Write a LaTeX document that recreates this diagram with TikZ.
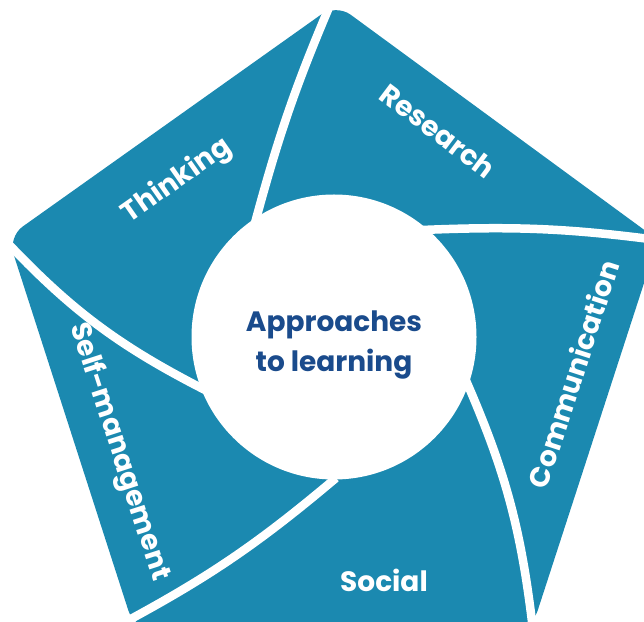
\documentclass[tikz,border=0pt]{standalone}
\usepackage{fontspec}
\setmainfont{Poppins}
\definecolor{tealfill}{HTML}{1B89B0}
\definecolor{navytext}{HTML}{1A4B8C}
\begin{document}
\begin{tikzpicture}[x=1pt,y=1pt,
  sep/.style={white, line width=8.5pt},
  lbl/.style={text=white, font=\bfseries\fontsize{28}{30}\selectfont, inner sep=0pt},
  ctr/.style={text=navytext, font=\bfseries\fontsize{28}{30}\selectfont, inner sep=0pt, anchor=base}]
\clip (0,0) rectangle (644,621);
\useasboundingbox (0,0) rectangle (644,621);
% pentagon
\coordinate (T) at (336,617);
\coordinate (R) at (658,381);
\coordinate (BR) at (532,-7);
\coordinate (BL) at (134,-7);
\coordinate (L) at (8,384);
\fill[tealfill, rounded corners=18pt] (T) -- (R) -- (BR) -- (BL) -- (L) -- cycle;
% separators
\coordinate (s1) at (255,398); \coordinate (e1) at (333,623);
\coordinate (s2) at (422,391); \coordinate (e2) at (665,380);
\coordinate (s3) at (464,245); \coordinate (e3) at (533,-9);
\coordinate (s4) at (336,143); \coordinate (e4) at (116,-6);
\coordinate (s5) at (209,229); \coordinate (e5) at (0,386);
\draw[sep] (s1) to[bend left=4] (e1);
\draw[sep] (s2) to[bend left=5] (e2);
\draw[sep] (s3) to[bend left=8.5] (e3);
\draw[sep] (s4) to[bend left=6] (e4);
\draw[sep] (s5) to[bend left=10] (e5);
% hub
\node[circle, fill=white, minimum size=285pt, inner sep=0pt] (hub) at (334,284) {};
\node[ctr] (t1) at (334,289) {Approaches};
\node[ctr] (t2) at (334,249) {to learning};
% labels
\node[lbl, rotate=35] (thinking) at (177,440) {Thinking};
\node[lbl, rotate=-37] (research) at (438,490) {Research};
\node[lbl, rotate=72] (comm) at (573,247) {Communication};
\node[lbl] (social) at (384,41) {Social};
\node[lbl, rotate=-72] (selfm) at (119,169) {Self-management};
\end{tikzpicture}
\end{document}
